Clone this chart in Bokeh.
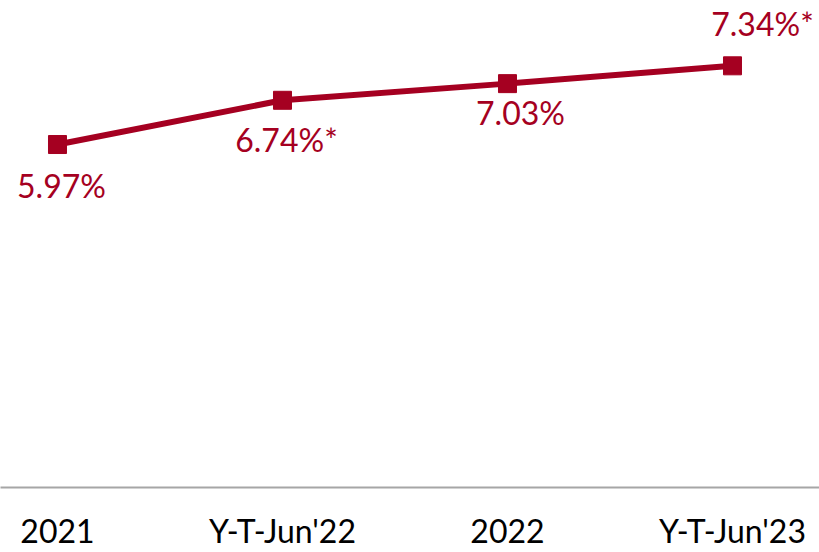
from bokeh.plotting import figure
from bokeh.models import Range1d, FixedTicker, ColumnDataSource
from bokeh.embed import file_html
from bokeh.resources import INLINE
from bokeh.core.properties import value

categories = ["2021", "Y-T-Jun'22", "2022", "Y-T-Jun'23"]
values = [5.97, 6.74, 7.03, 7.34]
labels = ["5.97%", "6.74%*", "7.03%", "7.34%*"]
# label placement (pixels relative to the point)
label_dx = [4, 4, 13, 30]
label_dy = [41, 39, 29, -42]

RED = "#A50021"
FONT = "Lato"

xs = list(range(len(categories)))
src = ColumnDataSource(dict(x=xs, y=values, label=labels, dx=label_dx, dy=label_dy))

p = figure(width=819, height=552, output_backend="svg", toolbar_location=None,
           x_range=Range1d(-0.2533, 3.3867), y_range=Range1d(0, 8.477),
           min_border_top=0, min_border_left=0, min_border_right=0, min_border_bottom=0,
           y_axis_location=None)
p.outline_line_color = None
p.grid.visible = False
p.background_fill_color = "white"
p.border_fill_color = "white"

p.line("x", "y", source=src, line_color=RED, line_width=6)
p.scatter("x", "y", source=src, marker="square", size=18, fill_color=RED, line_color=RED)
p.text("x", "y", text="label", source=src, x_offset="dx", y_offset="dy",
       text_align="center", text_baseline="alphabetic", text_color=RED,
       text_font=value(FONT), text_font_size="32px")

ax = p.xaxis[0]
ax.ticker = FixedTicker(ticks=xs)
ax.major_label_overrides = {i: c for i, c in zip(xs, categories)}
ax.major_tick_line_color = None
ax.minor_tick_line_color = None
ax.axis_line_color = "#A6A6A6"
ax.axis_line_width = 2
ax.major_label_text_font = FONT
ax.major_label_text_font_size = "32px"
ax.major_label_text_color = "black"
ax.major_label_standoff = 17

open("out.html", "w").write(file_html(p, INLINE))
